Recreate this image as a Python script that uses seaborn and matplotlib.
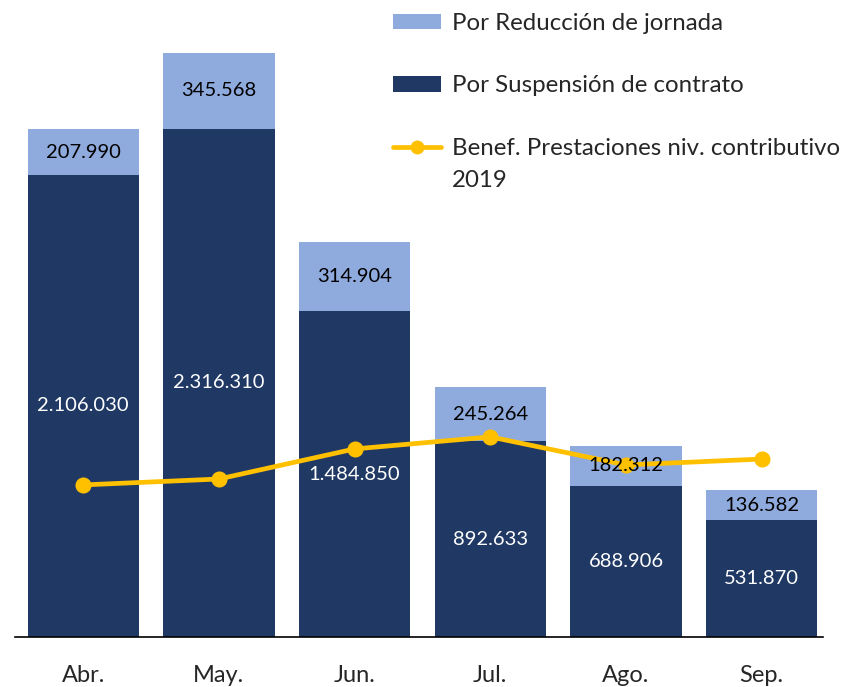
import numpy as np
import matplotlib
matplotlib.use("Agg")
import matplotlib.pyplot as plt
from matplotlib.patches import Patch
from matplotlib.lines import Line2D
import seaborn as sns

meses = ["Abr.", "May.", "Jun.", "Jul.", "Ago.", "Sep."]
suspension = np.array([2106030, 2316310, 1484850, 892633, 688906, 531870])
reduccion = np.array([207990, 345568, 314904, 245264, 182312, 136582])
benef_2019 = np.array([693000, 720000, 857000, 912000, 784000, 811000])

oscuro = "#203864"
claro = "#8faadc"
amarillo = "#ffc000"

sns.set_style("white")
plt.rcParams["font.family"] = ["Lato", "DejaVu Sans"]

fig = plt.figure(figsize=(8.5, 6.87), dpi=100)
ax = fig.add_axes([0.018, 0.0728, 0.95, 0.9272])

total = suspension + reduccion
sns.barplot(x=meses, y=total, color=claro, width=0.82, saturation=1,
            linewidth=0, ax=ax)
sns.barplot(x=meses, y=suspension, color=oscuro, width=0.82, saturation=1,
            linewidth=0, ax=ax)
sns.pointplot(x=meses, y=benef_2019, color=amarillo, markers="o",
              markersize=9, linewidth=3.4, ax=ax)

# etiquetas de valores
fmt = lambda v: f"{v:,}".replace(",", ".")
for i in range(len(meses)):
    ax.text(i, suspension[i] / 2, fmt(suspension[i]), ha="center", va="center",
            color="white", fontsize=14.5)
    ax.text(i, suspension[i] + reduccion[i] / 2, fmt(reduccion[i]), ha="center",
            va="center", color="black", fontsize=14.5)

ax.set_xlim(-0.5, 5.45)
ax.set_ylim(0, 2903000)
ax.set_yticks([])
ax.set_xlabel("")
ax.set_ylabel("")
sns.despine(ax=ax, left=True, top=True, right=True)
ax.spines["bottom"].set_color("black")
ax.spines["bottom"].set_linewidth(1.2)
ax.tick_params(axis="x", length=0, pad=20, labelsize=17)

handles = [
    Patch(facecolor=claro, edgecolor="none"),
    Patch(facecolor=oscuro, edgecolor="none"),
    Line2D([0], [0], color=amarillo, lw=3.4, marker="o", markersize=9),
]
labels = ["Por Reducción de jornada", "Por Suspensión de contrato",
          "Benef. Prestaciones niv. contributivo"]
leg = fig.legend(handles, labels, loc="upper left", bbox_to_anchor=(0.462, 0.981),
                 frameon=False, fontsize=17.3, handlelength=2.0, handleheight=0.6,
                 labelspacing=1.72, handletextpad=0.45, borderpad=0,
                 borderaxespad=0)

# segunda línea de la tercera entrada
fig.canvas.draw()
bb = leg.get_texts()[2].get_window_extent().transformed(fig.transFigure.inverted())
fig.text(bb.x0, bb.y0 - 0.017, "2019", ha="left", va="top", fontsize=17.3)

fig.savefig("out.png", dpi=100)
